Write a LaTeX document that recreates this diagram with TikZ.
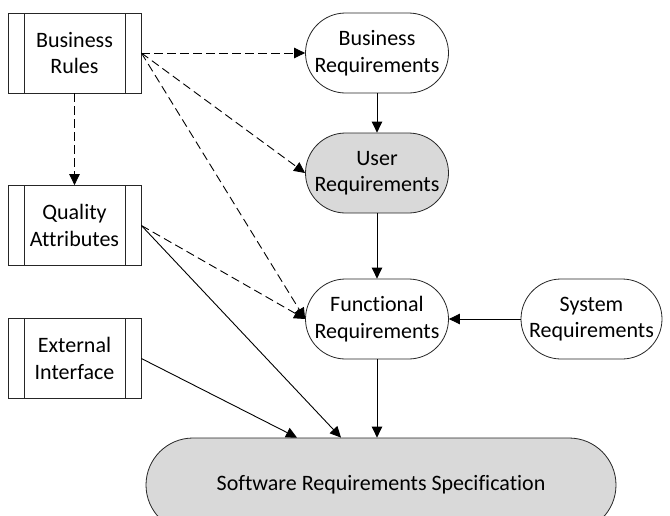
\documentclass[tikz,border=0pt]{standalone}
\usepackage{fontspec}
\setmainfont{Carlito}[Ligatures=NoCommon]
\usetikzlibrary{arrows.meta}

\begin{document}
\begin{tikzpicture}[x=1pt,y=-1pt,
    every node/.style={font=\fontsize{22}{26.5}\selectfont,align=center,inner sep=0pt,draw=black!85,line width=0.8pt},
    proc/.style={rectangle,minimum width=133pt,minimum height=80pt,fill=white,
        path picture={
            \draw[line width=0.8pt,black!85] ([xshift=16pt]path picture bounding box.north west) -- ([xshift=16pt]path picture bounding box.south west);
            \draw[line width=0.8pt,black!85] ([xshift=-16pt]path picture bounding box.north east) -- ([xshift=-16pt]path picture bounding box.south east);
        }},
    req/.style={rectangle,rounded corners=40pt,minimum width=143pt,minimum height=80pt,fill=white},
    shaded/.style={fill=black!15},
    >={Triangle[length=11pt,width=10.5pt]},
    link/.style={->,line width=0.9pt,black},
    dlink/.style={link,dash pattern=on 8.5pt off 4.5pt}]
\useasboundingbox (0,0) rectangle (670,515);

% left column
\node (rules) at (74.5, 53) [proc] {Business\\Rules};
\node (quality) at (74.5, 225.5) [proc] {Quality\\Attributes};
\node (ext) at (74.5, 358.5) [proc] {External\\Interface};

% requirements
\node (busreq) at (377, 53) [req] {Business\\Requirements};
\node (userreq) at (377, 173) [req,shaded] {User\\Requirements};
\node (func) at (377, 319) [req] {Functional\\Requirements};
\node (sys) at (591.5, 319) [req,minimum width=141pt] {System\\Requirements};

\node (srs) at (381, 485) [rectangle,rounded corners=47pt,minimum width=470pt,minimum height=94pt,shaded] {Software Requirements Specification};

\draw[dlink] (rules.east) -- (busreq.west);
\draw[dlink] (rules.east) -- (userreq.west);
\draw[dlink] (rules.east) -- (func.west);
\draw[dlink] (rules.south) -- (quality.north);
\draw[dlink] (quality.east) -- (func.west);

\draw[link] (busreq) -- (userreq);
\draw[link] (userreq) -- (func);
\draw[link] (sys) -- (func);
\draw[link] (func.south) -- (func.south |- srs.north);
\draw[link] (quality.east) -- ([xshift=-40pt]srs.north);
\draw[link] (ext.east) -- ([xshift=-84pt]srs.north);
\end{tikzpicture}
\end{document}
